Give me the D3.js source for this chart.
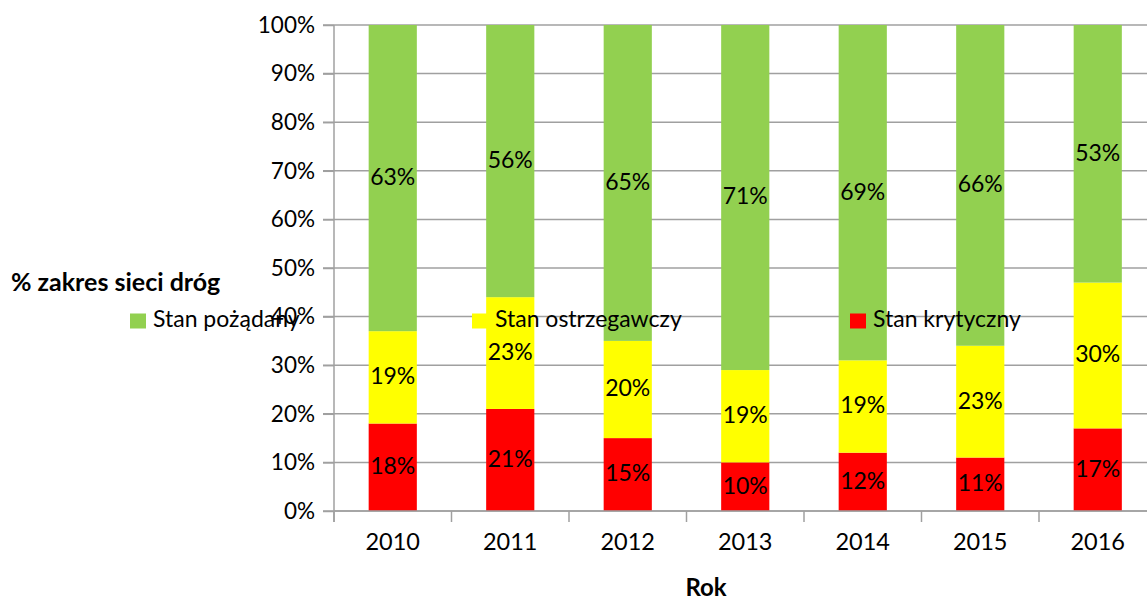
<!DOCTYPE html>
<html lang="pl">
<head>
<meta charset="UTF-8">
<title>Stan sieci dróg</title>
<style>
  body { margin: 0; background: #fff; }
  svg { display: block; font-family: Lato, "Open Sans", sans-serif; }
</style>
</head>
<body>
<div class="container"></div>
<script src="https://cdn.jsdelivr.net/npm/d3@7/dist/d3.min.js"></script>
<script>
// Data
const years = ["2010", "2011", "2012", "2013", "2014", "2015", "2016"]
const krytyczny = [18, 21, 15, 10, 12, 11, 17]
const ostrzegawczy = [19, 23, 20, 19, 19, 23, 30]
const pozadany = [63, 56, 65, 71, 69, 66, 53]
const seriesNames = ["Stan krytyczny", "Stan ostrzegawczy", "Stan pożądany"]
const seriesColors = ["#ff0000", "#ffff00", "#92d050"]
const yTicks = [0, 10, 20, 30, 40, 50, 60, 70, 80, 90, 100]

// Layout
const width = 1147
const height = 599
const plotLeft = 334
const plotTop = 25
const plotBottom = 511
const step = 117.5
const plotRight = plotLeft + step * years.length

const svg = d3.select(".container").append("svg")
  .attr("width", width)
  .attr("height", height)

const x = d3.scaleBand()
  .domain(years)
  .range([plotLeft, plotRight])
  .paddingInner(0.59)
  .paddingOuter(0.295)

const y = d3.scaleLinear()
  .domain([0, 100])
  .range([plotBottom, plotTop])

// Grid lines
const grid = svg.append("g").attr("class", "grid")
grid.selectAll("line")
  .data(yTicks)
  .join("line")
  .attr("x1", plotLeft - 11)
  .attr("x2", width)
  .attr("y1", d => y(d))
  .attr("y2", d => y(d))
  .attr("stroke", "#a0a0a0")
  .attr("stroke-width", 1.5)

// Stacked bars
const table = years.map((yr, i) => ({
  year: yr,
  "Stan krytyczny": krytyczny[i],
  "Stan ostrzegawczy": ostrzegawczy[i],
  "Stan pożądany": pozadany[i]
}))
const stacked = d3.stack().keys(seriesNames)(table)

const layers = svg.append("g").attr("class", "bars")
  .selectAll("g")
  .data(stacked)
  .join("g")
  .attr("fill", (d, i) => seriesColors[i])

layers.selectAll("rect")
  .data(d => d)
  .join("rect")
  .attr("x", d => x(d.data.year))
  .attr("width", x.bandwidth())
  .attr("y", d => y(d[1]))
  .attr("height", d => y(d[0]) - y(d[1]))

// Data labels
layers.selectAll("text")
  .data(d => d)
  .join("text")
  .attr("x", d => x(d.data.year) + x.bandwidth() / 2)
  .attr("y", d => y((d[0] + d[1]) / 2))
  .attr("dy", "0.3em")
  .attr("text-anchor", "middle")
  .attr("font-size", 23)
  .attr("fill", "#000")
  .text(d => (d[1] - d[0]) + "%")

// Y axis
const yAxis = d3.axisLeft(y)
  .tickValues(yTicks)
  .tickSize(11)
  .tickPadding(8)
  .tickFormat(d => d + "%")
const yAxisG = svg.append("g")
  .attr("transform", `translate(${plotLeft},0)`)
  .call(yAxis)
yAxisG.select(".domain").remove()
yAxisG.selectAll(".tick line").attr("stroke", "#a0a0a0").attr("stroke-width", 1.5)
yAxisG.selectAll(".tick text").attr("font-size", 22.5).attr("fill", "#000")
  .attr("font-family", "Lato, sans-serif")

svg.append("line")
  .attr("x1", plotLeft).attr("x2", plotLeft)
  .attr("y1", plotTop).attr("y2", plotBottom + 11)
  .attr("stroke", "#a0a0a0").attr("stroke-width", 1.5)

// X axis
const xAxis = d3.axisBottom(x).tickSize(0).tickPadding(22)
const xAxisG = svg.append("g")
  .attr("transform", `translate(0,${plotBottom})`)
  .call(xAxis)
xAxisG.select(".domain").remove()
xAxisG.selectAll(".tick text").attr("font-size", 23.5).attr("fill", "#000")
  .attr("font-family", "Lato, sans-serif")

svg.append("line")
  .attr("x1", plotLeft).attr("x2", width)
  .attr("y1", plotBottom).attr("y2", plotBottom)
  .attr("stroke", "#a0a0a0").attr("stroke-width", 1.5)

// category separators
svg.append("g").selectAll("line")
  .data(d3.range(years.length + 1))
  .join("line")
  .attr("x1", i => plotLeft + i * x.step())
  .attr("x2", i => plotLeft + i * x.step())
  .attr("y1", plotBottom)
  .attr("y2", plotBottom + 11)
  .attr("stroke", "#a0a0a0")
  .attr("stroke-width", 1.5)

// Axis titles
svg.append("text")
  .attr("x", 11).attr("y", 291)
  .attr("font-size", 25).attr("font-weight", "bold")
  .text("% zakres sieci dróg")

svg.append("text")
  .attr("x", 706).attr("y", 596)
  .attr("text-anchor", "middle")
  .attr("font-size", 24).attr("font-weight", "bold")
  .text("Rok")

// Legend
const legendItems = [
  { name: "Stan pożądany", color: seriesColors[2], x: 130 },
  { name: "Stan ostrzegawczy", color: seriesColors[1], x: 472 },
  { name: "Stan krytyczny", color: seriesColors[0], x: 850 }
]
const legend = svg.append("g").attr("class", "legend")
  .selectAll("g")
  .data(legendItems)
  .join("g")
  .attr("transform", d => `translate(${d.x},321)`)
legend.append("rect")
  .attr("x", 0).attr("y", -7.5)
  .attr("width", 16).attr("height", 15)
  .attr("fill", d => d.color)
legend.append("text")
  .attr("x", 23).attr("y", 6)
  .attr("font-size", 23)
  .text(d => d.name)
</script>
</body>
</html>
